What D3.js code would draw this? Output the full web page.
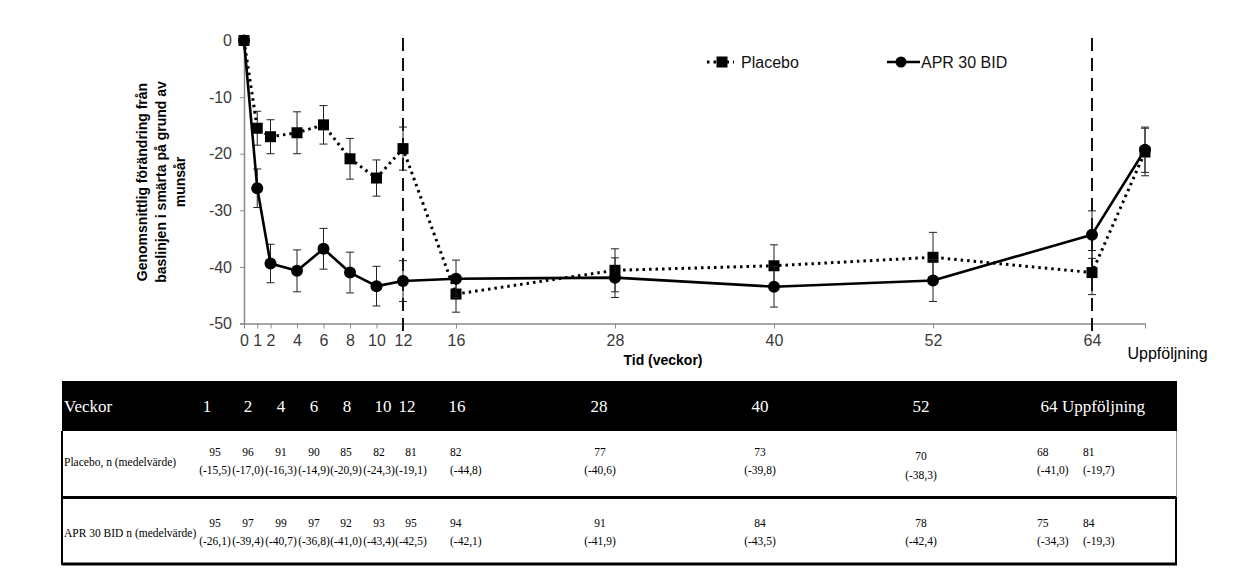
<!DOCTYPE html>
<html>
<head>
<meta charset="utf-8">
<script src="https://cdn.jsdelivr.net/npm/d3@7"></script>
<style>
  body { margin: 0; background: #fff; }
  svg { display: block; }
</style>
</head>
<body>
<script>
// weeks, last point is follow-up (Uppföljning) at week 68
const weeks = [0, 1, 2, 4, 6, 8, 10, 12, 16, 28, 40, 52, 64, 68]
const placebo = [0, -15.5, -17.0, -16.3, -14.9, -20.9, -24.3, -19.1, -44.8, -40.6, -39.8, -38.3, -41.0, -19.7]
const placeboErr = [0, 3.0, 3.0, 3.7, 3.4, 3.6, 3.2, 3.8, 3.2, 3.8, 3.7, 4.4, 3.9, 4.2]
const apr = [0, -26.1, -39.4, -40.7, -36.8, -41.0, -43.4, -42.5, -42.1, -41.9, -43.5, -42.4, -34.3, -19.3]
const aprErr = [0, 3.4, 3.4, 3.7, 3.6, 3.6, 3.5, 3.6, 3.3, 3.5, 3.6, 3.7, 4.2, 4.0]
const xTicks = [0, 1, 2, 4, 6, 8, 10, 12, 16, 28, 40, 52, 64, 68]
const yTicks = [0, -10, -20, -30, -40, -50]
const refWeeks = [12, 64]

// table
const tableCols = ['1', '2', '4', '6', '8', '10', '12', '16', '28', '40', '52', '64', 'Uppföljning']
const placeboN = [95, 96, 91, 90, 85, 82, 81, 82, 77, 73, 70, 68, 81]
const aprN = [95, 97, 99, 97, 92, 93, 95, 94, 91, 84, 78, 75, 84]

const width = 1239
const height = 579

const svg = d3.select('body').append('svg')
  .attr('width', width)
  .attr('height', height)
  .style('font-family', 'Arial, "Liberation Sans", sans-serif')

const x = d3.scaleLinear().domain([0, 68]).range([244, 1145])
const y = d3.scaleLinear().domain([-50, 0]).range([323.5, 40.5])

const axisColor = '#8a8a8a'
const labelColor = '#3a3a3a'

// y axis
const yAxis = svg.append('g')
  .attr('transform', `translate(${x(0)},0)`)
  .call(d3.axisLeft(y).tickValues(yTicks).tickSize(4).tickPadding(8).tickFormat(d => String(d)))
yAxis.select('.domain').attr('stroke', axisColor).attr('stroke-width', 1.5)
yAxis.selectAll('.tick line').attr('stroke', axisColor)
yAxis.selectAll('.tick text')
  .attr('fill', labelColor)
  .style('font-size', '16px')
  .style('font-family', 'Arial, "Liberation Sans", sans-serif')

// x axis
const xAxis = svg.append('g')
  .attr('transform', `translate(0,${y(-50)})`)
  .call(d3.axisBottom(x).tickValues(xTicks).tickSize(5).tickPadding(6).tickSizeOuter(0)
    .tickFormat(d => d === 68 ? 'Uppföljning' : d))
xAxis.select('.domain').attr('stroke', axisColor).attr('stroke-width', 1.5)
xAxis.selectAll('.tick line').attr('stroke', axisColor)
xAxis.selectAll('.tick text')
  .attr('fill', labelColor)
  .style('font-size', '16px')
  .style('font-family', 'Arial, "Liberation Sans", sans-serif')
xAxis.selectAll('.tick text')
  .filter(d => d === 68)
  .attr('fill', '#000')
  .attr('dx', 22)
  .attr('dy', '1.5em')

// axis titles
const yTitle = svg.append('text')
  .attr('transform', 'translate(165,182) rotate(-90)')
  .attr('text-anchor', 'middle')
  .style('font-size', '14px')
  .style('font-weight', 'bold')
;['Genomsnittlig förändring från', 'baslinjen i smärta på grund av', 'munsår'].forEach((t, i) => {
  yTitle.append('tspan').attr('x', 0).attr('y', -18 + i * 19).text(t)
})

svg.append('text')
  .attr('x', 663)
  .attr('y', 365)
  .attr('text-anchor', 'middle')
  .style('font-size', '14px')
  .style('font-weight', 'bold')
  .text('Tid (veckor)')

// reference dashed lines
svg.selectAll('.ref')
  .data(refWeeks)
  .enter().append('line')
  .attr('x1', d => x(d))
  .attr('x2', d => x(d))
  .attr('y1', 38)
  .attr('y2', y(-50) + 10)
  .attr('stroke', '#111')
  .attr('stroke-width', 2)
  .attr('stroke-dasharray', '13,7')

const series = [
  { name: 'Placebo', values: placebo, err: placeboErr, dash: '2.5,4', marker: 'square' },
  { name: 'APR 30 BID', values: apr, err: aprErr, dash: null, marker: 'circle' }
]

const line = d3.line().x(d => x(d[0])).y(d => y(d[1]))

series.forEach(s => {
  const pts = weeks.map((w, i) => [w, s.values[i], s.err[i]])
  const g = svg.append('g')

  // error bars
  const eb = g.selectAll('.eb').data(pts.filter(p => p[2] > 0)).enter().append('g')
  eb.append('line')
    .attr('x1', d => x(d[0])).attr('x2', d => x(d[0]))
    .attr('y1', d => y(d[1] + d[2])).attr('y2', d => y(d[1] - d[2]))
    .attr('stroke', '#222').attr('stroke-width', 1)
  ;[1, -1].forEach(sign => {
    eb.append('line')
      .attr('x1', d => x(d[0]) - 4).attr('x2', d => x(d[0]) + 4)
      .attr('y1', d => y(d[1] + sign * d[2])).attr('y2', d => y(d[1] + sign * d[2]))
      .attr('stroke', '#222').attr('stroke-width', 1)
  })

  g.append('path')
    .datum(pts)
    .attr('d', line)
    .attr('fill', 'none')
    .attr('stroke', '#000')
    .attr('stroke-width', s.dash ? 3 : 2.6)
    .attr('stroke-dasharray', s.dash)
    .attr('stroke-linejoin', 'round')

  if (s.marker === 'square') {
    g.selectAll('.m').data(pts).enter().append('rect')
      .attr('x', d => x(d[0]) - 5.5)
      .attr('y', d => y(d[1]) - 5.5)
      .attr('width', 11)
      .attr('height', 11)
      .attr('fill', '#000')
  } else {
    g.selectAll('.m').data(pts).enter().append('circle')
      .attr('cx', d => x(d[0]))
      .attr('cy', d => y(d[1]))
      .attr('r', 6)
      .attr('fill', '#000')
  }
})

// legend
const legend = svg.append('g').style('font-size', '16px')
const lp = legend.append('g').attr('transform', 'translate(707,62)')
lp.append('line').attr('x1', 0).attr('x2', 27).attr('stroke', '#000')
  .attr('stroke-width', 3).attr('stroke-dasharray', '2.5,4')
lp.append('rect').attr('x', 9.5).attr('y', -5.5).attr('width', 11).attr('height', 11)
lp.append('text').attr('x', 34).attr('y', 6).attr('fill', '#111').text('Placebo')
const la = legend.append('g').attr('transform', 'translate(887,62)')
la.append('line').attr('x1', 0).attr('x2', 33).attr('stroke', '#000').attr('stroke-width', 2.6)
la.append('circle').attr('cx', 14).attr('r', 5.5)
la.append('text').attr('x', 34).attr('y', 6).attr('fill', '#111').text('APR 30 BID')

// ---- table ----
// cell anchor x and alignment per column
const tx = d3.scaleOrdinal()
  .domain(tableCols)
  .range([215, 248, 281, 314, 346, 379, 411, 450, 600, 760, 921, 1037, 1083])
const leftCols = ['16', '64', 'Uppföljning']
const headerX = d3.scaleOrdinal()
  .domain(tableCols)
  .range([207, 248, 281, 314, 347, 383, 407, 457, 599, 760, 921, 1049, 1062])

const table = svg.append('g').style('font-family', '"Liberation Serif", "Times New Roman", serif')

table.append('rect')
  .attr('x', 62).attr('y', 381).attr('width', 1115).attr('height', 50)
  .attr('fill', '#000')

table.append('text').attr('x', 64).attr('y', 412)
  .attr('fill', '#fff').style('font-size', '17px').text('Veckor')

table.selectAll('.hd').data(tableCols).enter().append('text')
  .attr('x', d => headerX(d))
  .attr('y', 412)
  .attr('text-anchor', d => d === 'Uppföljning' ? 'start' : 'middle')
  .attr('fill', '#fff')
  .style('font-size', '17px')
  .text(d => d)

// borders
table.append('line').attr('x1', 62).attr('x2', 62).attr('y1', 431).attr('y2', 565)
  .attr('stroke', '#000').attr('stroke-width', 2)
table.append('line').attr('x1', 62).attr('x2', 1177).attr('y1', 497.5).attr('y2', 497.5)
  .attr('stroke', '#000').attr('stroke-width', 3)
table.append('line').attr('x1', 62).attr('x2', 1177).attr('y1', 564).attr('y2', 564)
  .attr('stroke', '#000').attr('stroke-width', 3)
table.append('line').attr('x1', 1176.5).attr('x2', 1176.5).attr('y1', 431).attr('y2', 497)
  .attr('stroke', '#999').attr('stroke-width', 1)
table.append('line').attr('x1', 1176).attr('x2', 1176).attr('y1', 497).attr('y2', 565)
  .attr('stroke', '#000').attr('stroke-width', 2)

const fmt = v => '(' + v.toFixed(1).replace('.', ',') + ')'

const rows = [
  { label: 'Placebo, n (medelvärde)', n: placeboN, mean: placebo.slice(1), y0: 456 },
  { label: 'APR 30 BID n (medelvärde)', n: aprN, mean: apr.slice(1), y0: 527 }
]

rows.forEach(r => {
  table.append('text').attr('x', 64).attr('y', r.y0 + 10)
    .style('font-size', '11.5px').text(r.label)
  const cells = table.selectAll(null).data(tableCols).enter().append('g')
  cells.append('text')
    .attr('x', d => tx(d))
    .attr('y', (d, i) => r.y0 + (r.y0 < 500 && d === '52' ? 4 : 0))
    .attr('text-anchor', d => leftCols.includes(d) ? 'start' : 'middle')
    .style('font-size', '11.5px')
    .text((d, i) => r.n[i])
  cells.append('text')
    .attr('x', d => tx(d))
    .attr('y', (d, i) => r.y0 + 18 + (r.y0 < 500 && d === '52' ? 5 : 0))
    .attr('text-anchor', d => leftCols.includes(d) ? 'start' : 'middle')
    .style('font-size', '11.5px')
    .text((d, i) => fmt(r.mean[i]))
})
</script>
</body>
</html>
